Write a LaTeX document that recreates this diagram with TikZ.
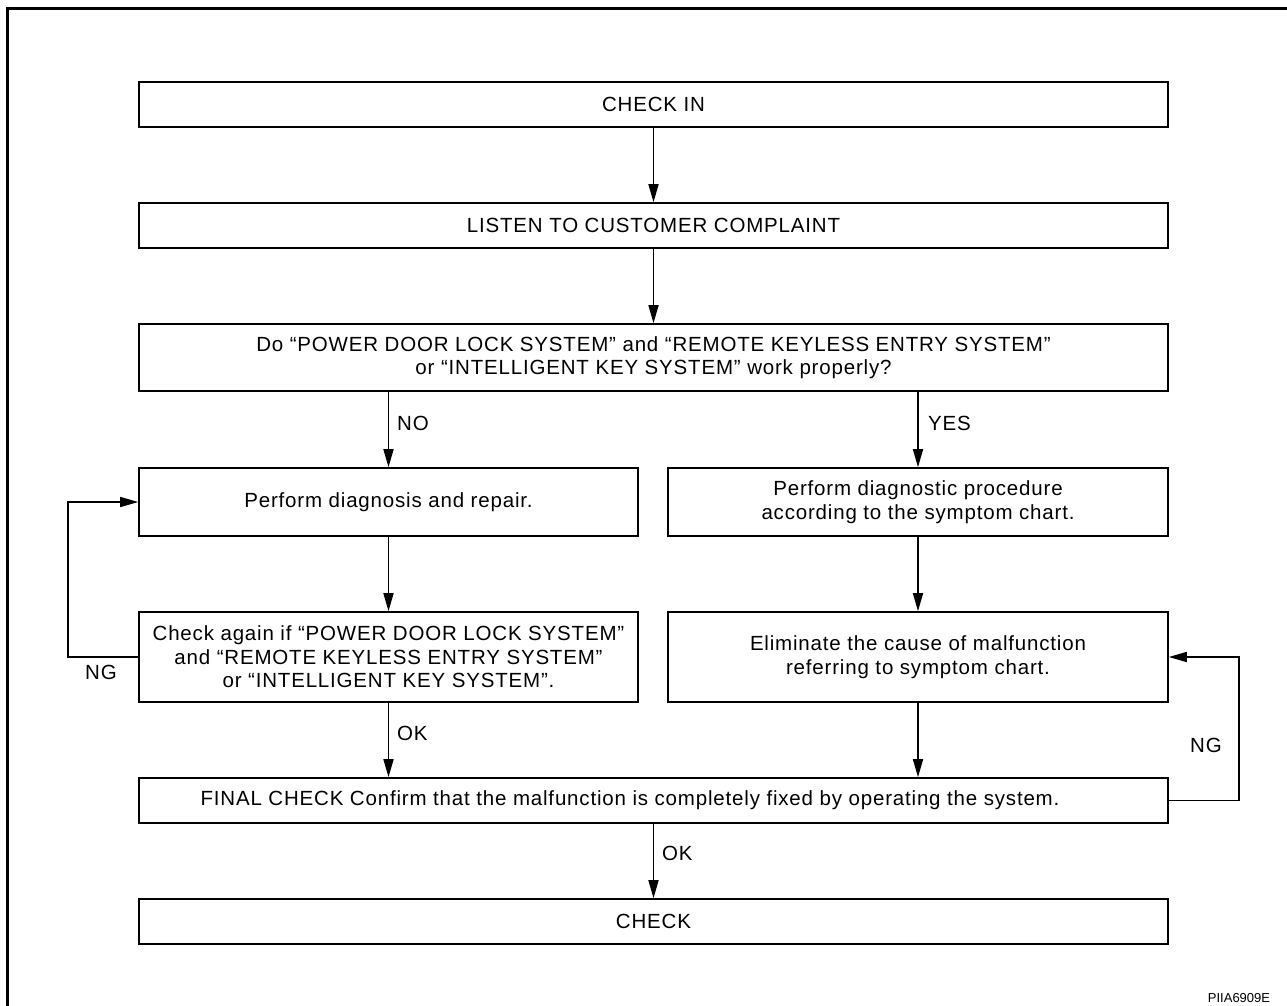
\documentclass[tikz,border=0pt]{standalone}
\usepackage{fontspec}
\setmainfont{Liberation Sans}[LetterSpace=4]
\newfontfamily\tagfont{Liberation Sans}
\usetikzlibrary{arrows.meta}
\begin{document}
\begin{tikzpicture}[x=1pt,y=-1pt,
  txt/.style={font=\fontsize{20.5}{23.5}\selectfont},
  box/.style={txt, draw, line width=1.6pt, inner sep=0pt, align=center, minimum height=45pt},
  arr/.style={line width=1.6pt, -{Triangle[length=18pt,width=10pt]}},
  lbl/.style={txt, inner sep=0pt, anchor=west}]
\useasboundingbox (0,0) rectangle (1287,1006);
\draw[line width=3pt] (7,1006) -- (7,9) -- (1287,9);

\node[box, minimum width=1029pt] (checkin) at (653.5,104.5) {CHECK IN};
\node[box, minimum width=1029pt] (listen) at (653.5,225.5) {LISTEN TO CUSTOMER COMPLAINT};
\node[box, minimum width=1029pt, minimum height=67pt] (ask) at (653.5,357.5)
  {Do “POWER DOOR LOCK SYSTEM” and “REMOTE KEYLESS ENTRY SYSTEM”\\or “INTELLIGENT KEY SYSTEM” work properly?};
\node[box, minimum width=499pt, minimum height=68pt] (repair) at (388.5,502) {Perform diagnosis and repair.};
\node[box, minimum width=500pt, minimum height=68pt] (proc) at (918,502) {Perform diagnostic procedure\\according to the symptom chart.};
\node[box, minimum width=499pt, minimum height=90pt] (again) at (388.5,657) {Check again if “POWER DOOR LOCK SYSTEM”\\and “REMOTE KEYLESS ENTRY SYSTEM”\\or “INTELLIGENT KEY SYSTEM”.};
\node[box, minimum width=500pt, minimum height=90pt] (elim) at (918,657) {Eliminate the cause of malfunction\\referring to symptom chart.};
\node[box, minimum width=1029pt] (final) at (653.5,800.5) {};
\node[txt, inner sep=0pt] (finaltext) at (630,800.5) {FINAL CHECK Confirm that the malfunction is completely fixed by operating the system.};
\node[box, minimum width=1029pt] (check) at (653.5,921.5) {CHECK};

\draw[arr] (checkin) -- (listen);
\draw[arr] (listen) -- (ask);
\draw[arr] (ask.south -| repair.north) -- (repair.north);
\draw[arr] (ask.south -| proc.north) -- (proc.north);
\draw[arr] (repair) -- (again);
\draw[arr] (proc) -- (elim);
\draw[arr] (again.south) -- (again.south |- final.north);
\draw[arr] (elim.south) -- (elim.south |- final.north);
\draw[arr] (final) -- (check);
\draw[arr] (again.west) -- ++(-70,0) |- (repair.west);
\draw[arr] (final.east) -- ++(70,0) |- (elim.east);

\node[lbl] (no) at (397,423) {NO};
\node[lbl] (yes) at (928,423) {YES};
\node[lbl] (ok1) at (397,733) {OK};
\node[lbl] (ok2) at (662,853) {OK};
\node[txt, inner sep=0pt] (ng1) at (101,672) {NG};
\node[txt, inner sep=0pt] (ng2) at (1206,745) {NG};
\node[inner sep=0pt, font=\tagfont\fontsize{13}{15}\selectfont] (tag) at (1239,998) {PIIA6909E};
\end{tikzpicture}
\end{document}
